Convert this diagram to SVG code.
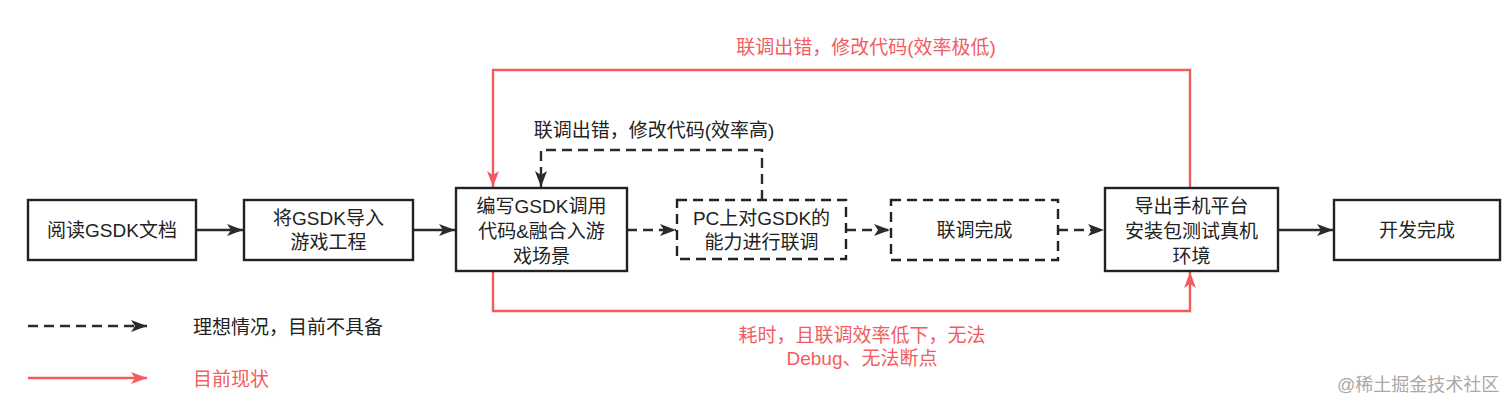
<svg xmlns="http://www.w3.org/2000/svg" width="1512" height="412" viewBox="0 0 1512 412">
<defs>
<style>
text{font-family:"Liberation Sans","Noto Sans CJK SC",sans-serif;font-size:19px;fill:#222;text-anchor:middle;dominant-baseline:central}
.box{fill:#fff;stroke:#222;stroke-width:2.4}
.dbox{fill:#fff;stroke:#222;stroke-width:2.4;stroke-dasharray:10 6}
.k{fill:none;stroke:#2b2b2b;stroke-width:2.4}
.kd{fill:none;stroke:#2b2b2b;stroke-width:2.4;stroke-dasharray:10 6}
.r{fill:none;stroke:#F25C5F;stroke-width:2.4}
.rt{fill:#F25C5F}
.lt{text-anchor:start}
.wm{fill:#a9a9a9;font-size:18px;text-anchor:start}
</style>
<marker id="ak" viewBox="0 0 16 12" refX="16" refY="6" markerWidth="16" markerHeight="12" markerUnits="userSpaceOnUse" orient="auto"><path d="M0,0 L16,6 L0,12 L4,6 Z" fill="#2b2b2b"/></marker>
<marker id="ar" viewBox="0 0 16 12" refX="16" refY="6" markerWidth="16" markerHeight="12" markerUnits="userSpaceOnUse" orient="auto"><path d="M0,0 L16,6 L0,12 L4,6 Z" fill="#F25C5F"/></marker>
</defs>
<rect width="1512" height="412" fill="#fff"/>
<g id="connectors">
<line class="k" x1="196" y1="230" x2="243" y2="230" marker-end="url(#ak)"/>
<line class="k" x1="413" y1="230" x2="455" y2="230" marker-end="url(#ak)"/>
<line class="kd" x1="627" y1="230" x2="676" y2="230" marker-end="url(#ak)"/>
<line class="kd" x1="846" y1="230" x2="890" y2="230" marker-end="url(#ak)"/>
<line class="kd" x1="1058" y1="230" x2="1104" y2="230" marker-end="url(#ak)"/>
<line class="k" x1="1278" y1="230" x2="1333" y2="230" marker-end="url(#ak)"/>
<polyline class="kd" points="762,200 762,150 541,150 541,187" marker-end="url(#ak)"/>
<polyline class="r" points="1190,188 1190,70 493,70 493,187" marker-end="url(#ar)"/>
<polyline class="r" points="493,271 493,311 1190,311 1190,272" marker-end="url(#ar)"/>
<line class="kd" x1="28" y1="326" x2="147" y2="326" marker-end="url(#ak)"/>
<line class="r" x1="28" y1="378" x2="147" y2="378" marker-end="url(#ar)"/>
</g>
<g id="n1"><rect class="box" x="28" y="200" width="168" height="60"/><text x="112" y="230">阅读GSDK文档</text></g>
<g id="n2"><rect class="box" x="244" y="200" width="169" height="60"/><text x="328.5" y="218">将GSDK导入</text><text x="328.5" y="242">游戏工程</text></g>
<g id="n3"><rect class="box" x="456" y="188" width="171" height="83"/><text x="541.5" y="206">编写GSDK调用</text><text x="541.5" y="231">代码&amp;融合入游</text><text x="541.5" y="256">戏场景</text></g>
<g id="n4"><rect class="dbox" x="677" y="200" width="169" height="59"/><text x="761.5" y="218">PC上对GSDK的</text><text x="761.5" y="242">能力进行联调</text></g>
<g id="n5"><rect class="dbox" x="891" y="200" width="167" height="60"/><text x="974.5" y="230">联调完成</text></g>
<g id="n6"><rect class="box" x="1105" y="188" width="173" height="83"/><text x="1191.5" y="206">导出手机平台</text><text x="1191.5" y="231">安装包测试真机</text><text x="1191.5" y="256">环境</text></g>
<g id="n7"><rect class="box" x="1334" y="200" width="166" height="60"/><text x="1417" y="230">开发完成</text></g>
<g id="labels">
<text x="654" y="130">联调出错，修改代码(效率高)</text>
<text class="rt" x="866" y="47">联调出错，修改代码(效率极低)</text>
<text class="rt" x="862" y="335">耗时，且联调效率低下，无法</text>
<text class="rt" x="862" y="358">Debug、无法断点</text>
<text class="lt" x="193" y="327">理想情况，目前不具备</text>
<text class="lt rt" x="193" y="379">目前现状</text>
<text class="wm" x="1337" y="385">@稀土掘金技术社区</text>
</g>
</svg>
